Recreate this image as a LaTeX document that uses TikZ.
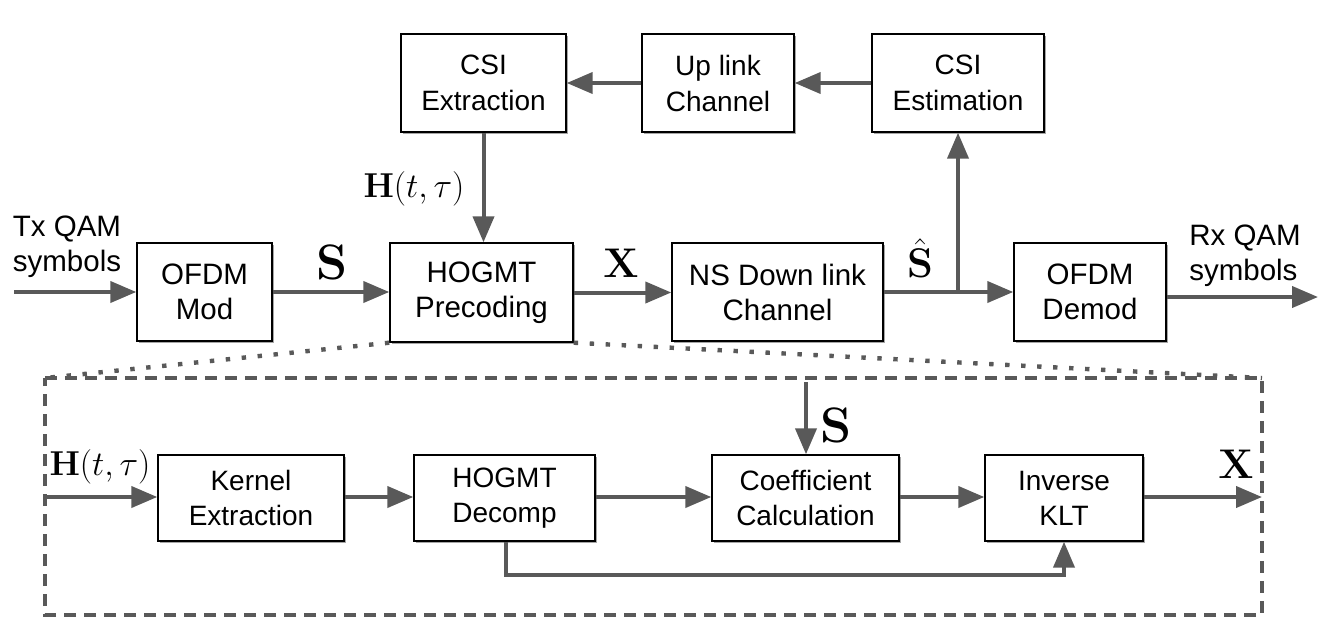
\documentclass[tikz,border=0pt]{standalone}
\usepackage[no-math]{fontspec}
\setmainfont{Liberation Sans}
\usetikzlibrary{arrows.meta,shadows}
\definecolor{linegray}{HTML}{595959}
\tikzset{
  blk/.style={draw=black, line width=0.7pt, fill=white, rectangle, align=center,
    inner sep=0pt, drop shadow={shadow xshift=0.9pt, shadow yshift=-0.9pt, opacity=0.35, fill=black}},
  midtxt/.style={font=\fontsize{14.75}{17.5}\selectfont},
  toptxt/.style={font=\fontsize{14}{18}\selectfont},
  bottxt/.style={font=\fontsize{14}{17.5}\selectfont},
  flow/.style={draw=linegray, line width=2pt, -{Triangle[length=13pt,width=10.5pt]}},
  plain/.style={draw=linegray, line width=2pt},
  dashbox/.style={draw=linegray, line width=1.6pt, dash pattern=on 6pt off 4pt},
  dotline/.style={draw=linegray, line width=2.2pt, dash pattern=on 2.2pt off 5.8pt},
  lbl/.style={inner sep=0pt, align=left, font=\fontsize{14.75}{17.5}\selectfont},
  mlbl/.style={inner sep=0pt}
}
\begin{document}
\begin{tikzpicture}[x=0.5pt, y=-0.5pt]
\useasboundingbox (0,0) rectangle (1321,637);

% top row
\node[blk, toptxt, minimum width=82.5pt, minimum height=49pt] (csiex) at (483.5,83) {CSI\\Extraction};
\node[blk, toptxt, minimum width=76pt, minimum height=49pt] (uplink) at (718,83) {Up link\\Channel};
\node[blk, toptxt, minimum width=86pt, minimum height=49pt] (csiest) at (958,83) {CSI\\Estimation};

% middle row
\node[blk, midtxt, minimum width=67.5pt, minimum height=49pt] (mod) at (204.5,292) {OFDM\\Mod};
\node[blk, midtxt, minimum width=91.5pt, minimum height=49.5pt] (precod) at (481.5,292.5) {HOGMT\\Precoding};
\node[blk, midtxt, minimum width=105.5pt, minimum height=49pt] (nsdl) at (777.5,292) {NS Down link\\Channel};
\node[blk, midtxt, minimum width=76pt, minimum height=49pt] (demod) at (1090,292) {OFDM\\Demod};

% bottom row
\node[blk, bottxt, minimum width=93pt, minimum height=43pt] (kernel) at (251,498) {Kernel\\Extraction};
\node[blk, bottxt, minimum width=90.5pt, minimum height=43pt] (decomp) at (504.5,498) {HOGMT\\Decomp};
\node[blk, bottxt, minimum width=93.5pt, minimum height=43pt] (coeff) at (805.5,498) {Coefficient\\Calculation};
\node[blk, bottxt, minimum width=79pt, minimum height=43pt] (iklt) at (1064,498) {Inverse\\KLT};

% coordinates
\coordinate (txin) at (14,292);
\coordinate (branch) at (958,292);
\coordinate (rxout) at (1318,297);
\coordinate (hin) at (45,497);
\coordinate (xout) at (1262,497);
\coordinate (sin) at (806,382);
\coordinate (dA) at (506,575);
\coordinate (dB) at (1064,575);
\coordinate (bl) at (45,378);
\coordinate (br) at (1262,378);
\coordinate (dbl) at (45,615);
\coordinate (dbr) at (1262,615);

% dashed box and dotted zoom lines
\draw[dashbox] (bl) -- (br) -- (dbr) -- (dbl) -- cycle;
\draw[dotline] (precod.south west) -- (bl);
\draw[dotline] (precod.south east) -- (br);

% top loop
\draw[flow] (csiest) -- (uplink);
\draw[flow] (uplink) -- (csiex);
\draw[flow] (csiex.south) -- (precod.north -| csiex.south);

% main chain
\draw[flow] (txin) -- (mod.west |- txin);
\draw[flow] (mod) -- (precod.west |- mod);
\draw[flow] (precod) -- (nsdl.west |- precod);
\draw[plain] (nsdl.east |- branch) -- (branch);
\draw[flow] (branch) -- (demod.west |- branch);
\draw[flow] (branch) -- (csiest.south);
\draw[flow] (demod.east |- rxout) -- (rxout);

% bottom chain
\draw[flow] (hin) -- (kernel.west |- hin);
\draw[flow] (kernel.east |- hin) -- (decomp.west |- hin);
\draw[flow] (decomp.east |- hin) -- (coeff.west |- hin);
\draw[flow] (coeff.east |- hin) -- (iklt.west |- hin);
\draw[flow] (iklt.east |- hin) -- (xout);
\draw[flow] (sin) -- (coeff.north -| sin);
\draw[flow] (decomp.south -| dA) -- (dA) -- (dB) -- (iklt.south);

% labels
\node[lbl] (tx) at (67,247) {Tx QAM\\symbols};
\node[lbl] (rx) at (1245,256) {Rx QAM\\symbols};
\node[mlbl, font=\fontsize{25}{25}\selectfont] (lS) at (332,262) {$\mathbf{S}$};
\node[mlbl, font=\fontsize{21}{21}\selectfont] (lX) at (621,263) {$\mathbf{X}$};
\node[mlbl, font=\fontsize{21}{21}\selectfont] (lSh) at (920,258) {$\hat{\mathbf{S}}$};
\node[mlbl, font=\fontsize{16}{16}\selectfont] (lH) at (414,189) {$\mathbf{H}(t,\tau)$};
\node[mlbl, font=\fontsize{16}{16}\selectfont] (lH2) at (100,467) {$\mathbf{H}(t,\tau)$};
\node[mlbl, font=\fontsize{23}{23}\selectfont] (lS2) at (836,425) {$\mathbf{S}$};
\node[mlbl, font=\fontsize{21}{21}\selectfont] (lX2) at (1236,464) {$\mathbf{X}$};
\end{tikzpicture}
\end{document}
